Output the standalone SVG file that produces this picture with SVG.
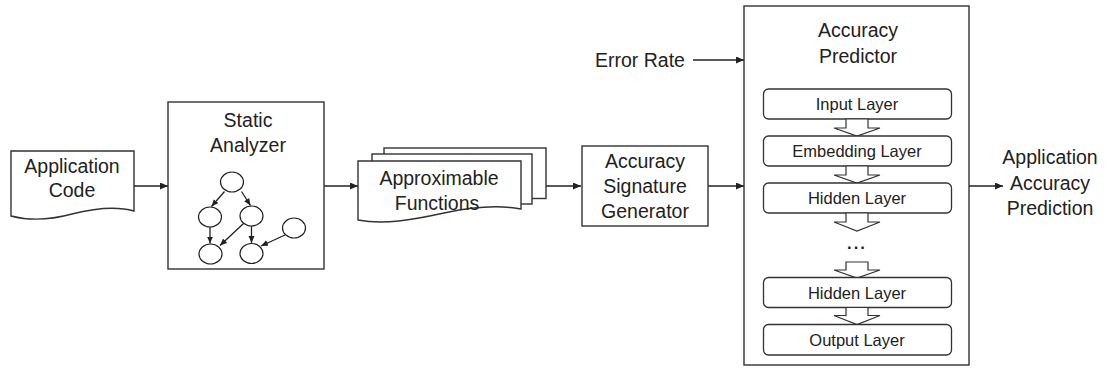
<svg xmlns="http://www.w3.org/2000/svg" width="1108" height="370" viewBox="0 0 1108 370">
<style>
.box{fill:#fff;stroke:#333;stroke-width:1.4}
.lay{fill:#fff;stroke:#333;stroke-width:1.3}
.t{font-family:"Liberation Sans",Arial,sans-serif;font-size:19.5px;fill:#222;text-anchor:middle}
.tl{font-family:"Liberation Sans",Arial,sans-serif;font-size:16.5px;fill:#222;text-anchor:middle}
.c{fill:none;stroke:#222;stroke-width:1.3}
.g{fill:#fff;stroke:#222;stroke-width:1.2}
.ba{fill:#fff;stroke:#333;stroke-width:1.2}
</style>
<defs>
<marker id="ah" markerUnits="userSpaceOnUse" markerWidth="9" markerHeight="8" refX="8" refY="3.5" orient="auto">
<path d="M0,0 L8,3.5 L0,7 z" fill="#222"/>
</marker>
<marker id="sh" markerUnits="userSpaceOnUse" markerWidth="8" markerHeight="8" refX="7" refY="3" orient="auto">
<path d="M0,0 L7,3 L0,6 z" fill="#222"/>
</marker>
</defs>

<g id="connectors">
<line class="c" x1="134" y1="186" x2="168" y2="186" marker-end="url(#ah)"/>
<line class="c" x1="324" y1="186" x2="358" y2="186" marker-end="url(#ah)"/>
<line class="c" x1="546" y1="186" x2="581" y2="186" marker-end="url(#ah)"/>
<line class="c" x1="708" y1="186" x2="744" y2="186" marker-end="url(#ah)"/>
<line class="c" x1="693" y1="60" x2="744" y2="60" marker-end="url(#ah)"/>
<line class="c" x1="969" y1="186" x2="1003" y2="186" marker-end="url(#ah)"/>
</g>

<g id="application-code">
<path class="box" d="M11,151 H134 V211 C116,206 96,208 72,214 C50,220 30,221 11,216 Z"/>
<text class="t" x="72" y="173">Application</text>
<text class="t" x="72" y="197">Code</text>
</g>

<g id="static-analyzer">
<rect class="box" x="168" y="102" width="156" height="167"/>
<text class="t" x="248" y="127">Static</text>
<text class="t" x="248" y="152">Analyzer</text>
<g id="call-graph">
<ellipse class="g" cx="232" cy="182" rx="11.5" ry="10"/>
<ellipse class="g" cx="210" cy="217" rx="11.5" ry="10"/>
<ellipse class="g" cx="251.5" cy="216" rx="11.5" ry="10"/>
<ellipse class="g" cx="294" cy="228" rx="11.5" ry="10"/>
<ellipse class="g" cx="210.5" cy="254" rx="11.5" ry="10"/>
<ellipse class="g" cx="251.5" cy="253.5" rx="11.5" ry="10"/>
<line class="c" x1="224.5" y1="191.5" x2="211.5" y2="206.5" marker-end="url(#sh)"/>
<line class="c" x1="241.5" y1="191.5" x2="250.5" y2="205.5" marker-end="url(#sh)"/>
<line class="c" x1="210" y1="227" x2="210" y2="243.5" marker-end="url(#sh)"/>
<line class="c" x1="243.5" y1="223.5" x2="220" y2="245.5" marker-end="url(#sh)"/>
<line class="c" x1="251.5" y1="226" x2="251.5" y2="243" marker-end="url(#sh)"/>
<line class="c" x1="285" y1="235" x2="261" y2="246" marker-end="url(#sh)"/>
</g>
</g>

<g id="approximable-functions">
<rect class="box" x="384" y="148" width="162" height="50.5"/>
<rect class="box" x="372" y="154" width="160" height="50"/>
<path class="box" d="M358,161 H521 V209 C500,205 476,206 444,213 C412,220 384,225 358,220 Z"/>
<text class="t" x="439" y="185">Approximable</text>
<text class="t" x="437" y="210">Functions</text>
</g>

<g id="signature-generator">
<rect class="box" x="582" y="146" width="126" height="80"/>
<text class="t" x="645" y="168">Accuracy</text>
<text class="t" x="645" y="193">Signature</text>
<text class="t" x="645" y="218">Generator</text>
</g>

<g id="error-rate">
<text class="t" x="640" y="67">Error Rate</text>
</g>

<g id="accuracy-predictor">
<rect class="box" x="744" y="6" width="225" height="359"/>
<text class="t" x="858" y="37">Accuracy</text>
<text class="t" x="858" y="63">Predictor</text>
<rect class="lay" x="763.5" y="89" width="188" height="30" rx="5"/>
<text class="tl" x="857" y="110">Input Layer</text>
<polygon class="ba" points="846,119 868,119 868,128 880,128 857,136 834,128 846,128"/>
<rect class="lay" x="763.5" y="136" width="188" height="30" rx="5"/>
<text class="tl" x="857" y="157">Embedding Layer</text>
<polygon class="ba" points="846,166 868,166 868,175 880,175 857,183 834,175 846,175"/>
<rect class="lay" x="763.5" y="183" width="188" height="30" rx="5"/>
<text class="tl" x="857" y="204">Hidden Layer</text>
<polygon class="ba" points="846,213 868,213 868,222 880,222 857,231 834,222 846,222"/>
<text class="tl" x="857" y="249" style="font-weight:bold;letter-spacing:2px">...</text>
<polygon class="ba" points="846,262 868,262 868,270 880,270 857,278 834,270 846,270"/>
<rect class="lay" x="763.5" y="277.5" width="188" height="30" rx="5"/>
<text class="tl" x="857" y="298.5">Hidden Layer</text>
<polygon class="ba" points="846,307.5 868,307.5 868,315.5 880,315.5 857,324.5 834,315.5 846,315.5"/>
<rect class="lay" x="763.5" y="324.5" width="188" height="30.5" rx="5"/>
<text class="tl" x="857" y="345.5">Output Layer</text>
</g>

<g id="prediction">
<text class="t" x="1050" y="164">Application</text>
<text class="t" x="1050" y="189.5">Accuracy</text>
<text class="t" x="1050" y="215">Prediction</text>
</g>
</svg>
